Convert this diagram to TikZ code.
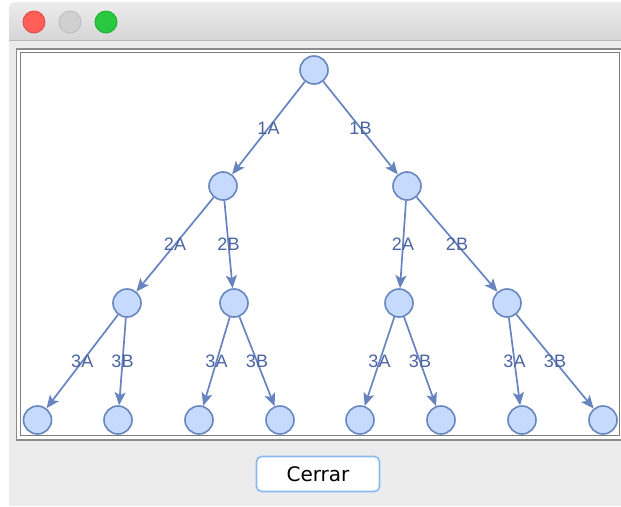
\documentclass[tikz,border=0pt]{standalone}
\usepackage{fontspec}
\setmainfont{Liberation Sans}
\newfontfamily\btnfont{DejaVu Sans}
\usetikzlibrary{arrows.meta}
\definecolor{nodefill}{RGB}{197,218,252}
\definecolor{nodeline}{RGB}{104,134,192}
\definecolor{edgecol}{RGB}{104,132,192}
\definecolor{labelcol}{RGB}{74,100,162}
\definecolor{winbg}{RGB}{236,236,236}
\definecolor{titletop}{RGB}{236,236,236}
\definecolor{titlebot}{RGB}{214,214,214}
\definecolor{sepline}{RGB}{182,182,182}
\definecolor{frameout}{RGB}{140,140,140}
\definecolor{framein}{RGB}{125,125,125}
\definecolor{btnline}{RGB}{140,186,240}
\definecolor{redlight}{RGB}{255,95,87}
\definecolor{redline}{RGB}{226,70,64}
\definecolor{graylight}{RGB}{208,208,208}
\definecolor{grayline}{RGB}{188,188,188}
\definecolor{greenlight}{RGB}{40,201,64}
\definecolor{greenline}{RGB}{28,170,44}
\tikzset{
  vert/.style={circle, draw=nodeline, fill=nodefill, line width=1.6pt, minimum size=28pt, inner sep=0pt},
  edge/.style={draw=edgecol, line width=1.7pt, -{Stealth[length=13pt,width=11pt,inset=3pt]}},
  lbl/.style={text=labelcol, font=\fontsize{18}{20}\selectfont, inner sep=0pt},
  light/.style={circle, line width=0.8pt, minimum size=22pt, inner sep=0pt},
  btn/.style={draw=btnline, fill=white, line width=1.6pt, rounded corners=5pt, minimum width=123pt, minimum height=35pt, inner sep=0pt, font=\btnfont\fontsize{20}{24}\selectfont, text=black}
}
\begin{document}
\begin{tikzpicture}[x=1pt,y=-1pt]
\useasboundingbox (0,0) rectangle (621,506);
\fill[white] (0,0) rectangle (621,506);
% window
\fill[winbg] (9,40) rectangle (621,506);
\shade[top color=titletop, bottom color=titlebot] (9,40) [rounded corners=6pt]-- (9,2) -- (640,2) [sharp corners]-- (640,40) -- cycle;
\draw[sepline, line width=1pt] (9,40.5) -- (621,40.5);
\node[light, fill=redlight, draw=redline] (closebtn) at (34,22) {};
\node[light, fill=graylight, draw=grayline] (minbtn) at (70,22) {};
\node[light, fill=greenlight, draw=greenline] (maxbtn) at (106,22) {};
% panel frame
\draw[fill=white, draw=frameout, line width=1.8pt] (16.5,48.8) rectangle (626,440);
\draw[fill=white, draw=framein, line width=1.3pt] (20.5,52.5) rectangle (619.3,435.5);
% nodes
\node[vert] (r) at (314,70) {};
\node[vert] (a) at (223,186) {};
\node[vert] (b) at (407,186) {};
\node[vert] (aa) at (127,303) {};
\node[vert] (ab) at (234,303) {};
\node[vert] (ba) at (399,303) {};
\node[vert] (bb) at (507,303) {};
\node[vert] (aaa) at (37.5,420) {};
\node[vert] (aab) at (118,420) {};
\node[vert] (aba) at (199,420) {};
\node[vert] (abb) at (280,420) {};
\node[vert] (baa) at (360,420) {};
\node[vert] (bab) at (441,420) {};
\node[vert] (bba) at (522,420) {};
\node[vert] (bbb) at (603,420) {};
% edges
\draw[edge] (r) -- node[lbl] (l1a) {1A} (a);
\draw[edge] (r) -- node[lbl] (l1b) {1B} (b);
\draw[edge] (a) -- node[lbl] (l2a1) {2A} (aa);
\draw[edge] (a) -- node[lbl] (l2b1) {2B} (ab);
\draw[edge] (b) -- node[lbl] (l2a2) {2A} (ba);
\draw[edge] (b) -- node[lbl] (l2b2) {2B} (bb);
\draw[edge] (aa) -- node[lbl] (l3a1) {3A} (aaa);
\draw[edge] (aa) -- node[lbl] (l3b1) {3B} (aab);
\draw[edge] (ab) -- node[lbl] (l3a2) {3A} (aba);
\draw[edge] (ab) -- node[lbl] (l3b2) {3B} (abb);
\draw[edge] (ba) -- node[lbl] (l3a3) {3A} (baa);
\draw[edge] (ba) -- node[lbl] (l3b3) {3B} (bab);
\draw[edge] (bb) -- node[lbl] (l3a4) {3A} (bba);
\draw[edge] (bb) -- node[lbl] (l3b4) {3B} (bbb);
% button
\node[btn] (cerrar) at (318,474) {Cerrar};
\end{tikzpicture}
\end{document}
